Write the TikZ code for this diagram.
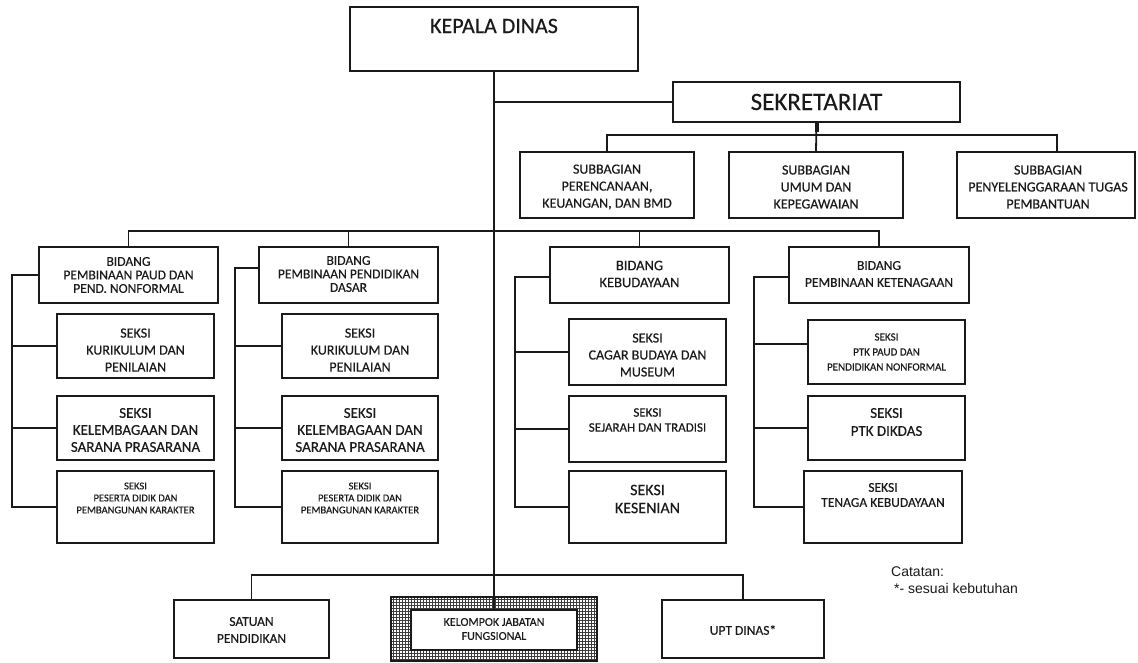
\documentclass[tikz,border=0pt]{standalone}
\usepackage{fontspec}
\setmainfont{Carlito}[FakeBold=0.35]
\newfontfamily\arialf{Liberation Sans}
\usetikzlibrary{patterns}
\definecolor{ink}{HTML}{1A1A1A}
\newcommand\ofs[2]{\fontsize{#1}{#2}\selectfont}
\newcommand\orgbox[6][]{%
  \pgfmathsetmacro\obw{#5-#3}\pgfmathsetmacro\obh{#6-#4}%
  \node[box,#1,minimum width=\obw pt,minimum height=\obh pt] (#2) at ({(#3+#5)/2},{(#4+#6)/2}) {};}
\begin{document}
\begin{tikzpicture}[x=1pt,y=-1pt,
  box/.style={draw=ink,line width=1.8pt,fill=white,inner sep=0pt},
  txt/.style={align=center,text=ink,inner sep=0pt},
  link/.style={draw=ink,line width=1.8pt}]
\useasboundingbox (0,0) rectangle (1138,662);
\fill[white] (0,0) rectangle (1138,662);
% boxes
\orgbox{kd}{350}{7}{638}{71}
\orgbox{sek}{673}{82}{960}{122}
\orgbox{sub1}{520}{152}{694}{218}
\orgbox{sub2}{729}{152}{903}{218}
\orgbox{sub3}{957}{152}{1135}{218}
\orgbox{b1}{39}{247}{218}{303}
\orgbox{b2}{259}{247}{438}{303}
\orgbox{b3}{550}{247}{729}{303}
\orgbox{b4}{789}{247}{969}{303}
\orgbox{s11}{57}{314}{214}{378}
\orgbox{s12}{57}{396}{214}{460}
\orgbox{s13}{57}{471}{214}{543}
\orgbox{s21}{282}{314}{438}{378}
\orgbox{s22}{282}{396}{438}{460}
\orgbox{s23}{282}{471}{438}{543}
\orgbox{s31}{569}{319}{726}{385}
\orgbox{s32}{569}{396}{726}{462}
\orgbox{s33}{569}{471}{726}{543}
\orgbox{s41}{808}{320}{965}{384}
\orgbox{s42}{808}{396}{965}{460}
\orgbox{s43}{804}{471}{962}{543}
\orgbox{sat}{174}{600}{329}{658}
\orgbox[pattern=grid,pattern color=ink!85]{kjf}{391}{597}{597}{661}
\orgbox{kjfin}{411}{610}{577}{650}
\orgbox{upt}{662}{600}{824}{658}
% connectors
\draw[link] (kd.south) -- (kjfin.north);
\draw[link] (kd.south |- sek.west) -- (sek.west);
\coordinate (sj) at (816.5,135);
\coordinate (s3d) at (1057,152);
\draw[link] (sek.south) -- (sub2.north);
\draw[link] (sub1.north) |- (sj) -- (s3d |- sj) -- (s3d);
\fill[ink] (814.5,122) rectangle (818.5,132);
\coordinate (bj) at (494,231);
\draw[link] (b1.north) |- (bj) -| (b4.north);
\draw[link] (b2.north) -- (b2.north |- bj);
\draw[link] (b3.north) -- (b3.north |- bj);
% column 1
\coordinate (k1) at (12,0);
\draw[link] (b1.west) -| (k1 |- s13.west) -- (s13.west);
\draw[link] (k1 |- s11.west) -- (s11.west);
\draw[link] (k1 |- s12.west) -- (s12.west);
% column 2
\coordinate (k2) at (235,0);
\coordinate (b2c) at (259,268);
\draw[link] (b2c) -| (k2 |- s23.west) -- (s23.west);
\draw[link] (k2 |- s21.west) -- (s21.west);
\draw[link] (k2 |- s22.west) -- (s22.west);
% column 3
\coordinate (k3) at (515,0);
\coordinate (b3c) at (550,277);
\draw[link] (b3c) -| (k3 |- s33.west) -- (s33.west);
\draw[link] (k3 |- s31.west) -- (s31.west);
\draw[link] (k3 |- s32.west) -- (s32.west);
% column 4
\coordinate (k4) at (754,0);
\coordinate (b4c) at (789,277);
\coordinate (s41c) at (808,344);
\draw[link] (b4c) -| (k4 |- s43.west) -- (s43.west);
\draw[link] (k4 |- s41c) -- (s41c);
\draw[link] (k4 |- s42.west) -- (s42.west);
% bottom
\coordinate (bb) at (494,575);
\draw[link] (sat.north) |- (bb) -| (upt.north);
% texts
\node[txt,font=\ofs{22}{26}] (kdt) at (494,26) {KEPALA DINAS};
\node[txt,font=\ofs{25}{30}] (sekt) at (816.5,102) {SEKRETARIAT};
\node[txt,font=\ofs{14}{17}] (sub1t) at (607,187) {SUBBAGIAN\\PERENCANAAN,\\KEUANGAN, DAN BMD};
\node[txt,font=\ofs{14}{17}] (sub2t) at (816,187) {SUBBAGIAN\\UMUM DAN\\KEPEGAWAIAN};
\node[txt,font=\ofs{14}{17}] (sub3t) at (1048,187) {SUBBAGIAN\\PENYELENGGARAAN TUGAS\\PEMBANTUAN};
\node[txt,font=\ofs{13.5}{13.5}] (b1t) at (128.5,275) {BIDANG\\PEMBINAAN PAUD DAN\\PEND. NONFORMAL};
\node[txt,font=\ofs{13.5}{13.5}] (b2t) at (348.5,274) {BIDANG\\PEMBINAAN PENDIDIKAN\\DASAR};
\node[txt,font=\ofs{14.5}{17}] (b3t) at (639.5,274) {BIDANG\\KEBUDAYAAN};
\node[txt,font=\ofs{13.5}{17}] (b4t) at (879,274) {BIDANG\\PEMBINAAN KETENAGAAN};
\node[txt,font=\ofs{14}{17}] (s11t) at (135.5,350) {SEKSI\\KURIKULUM DAN\\PENILAIAN};
\node[txt,font=\ofs{15}{17}] (s12t) at (135.5,430) {SEKSI\\KELEMBAGAAN DAN\\SARANA PRASARANA};
\node[txt,font=\ofs{10.5}{12}] (s13t) at (135.5,498) {SEKSI\\PESERTA DIDIK DAN\\PEMBANGUNAN KARAKTER};
\node[txt,font=\ofs{14}{17}] (s21t) at (360,350) {SEKSI\\KURIKULUM DAN\\PENILAIAN};
\node[txt,font=\ofs{15}{17}] (s22t) at (360,430) {SEKSI\\KELEMBAGAAN DAN\\SARANA PRASARANA};
\node[txt,font=\ofs{10.5}{12}] (s23t) at (360,498) {SEKSI\\PESERTA DIDIK DAN\\PEMBANGUNAN KARAKTER};
\node[txt,font=\ofs{14}{17}] (s31t) at (647.5,355) {SEKSI\\CAGAR BUDAYA DAN\\MUSEUM};
\node[txt,font=\ofs{13}{15}] (s32t) at (647.5,420) {SEKSI\\SEJARAH DAN TRADISI};
\node[txt,font=\ofs{16}{18}] (s33t) at (647.5,499) {SEKSI\\KESENIAN};
\node[txt,font=\ofs{11}{15}] (s41t) at (886.5,352) {SEKSI\\PTK PAUD DAN\\PENDIDIKAN NONFORMAL};
\node[txt,font=\ofs{15}{18}] (s42t) at (886.5,422) {SEKSI\\PTK DIKDAS};
\node[txt,font=\ofs{13.5}{15}] (s43t) at (883,495) {SEKSI\\TENAGA KEBUDAYAAN};
\node[txt,font=\ofs{13.5}{17}] (satt) at (251.5,630) {SATUAN\\PENDIDIKAN};
\node[txt,font=\ofs{12}{14}] (kjft) at (494,629) {KELOMPOK JABATAN\\FUNGSIONAL};
\node[txt,font=\ofs{13.5}{17}] (uptt) at (743,630) {UPT DINAS*};
\node[txt,align=left,anchor=north west,font=\arialf\ofs{14}{17}] (cat) at (891,567) {Catatan:\\\hspace{3pt}*- sesuai kebutuhan};
\end{tikzpicture}
\end{document}
